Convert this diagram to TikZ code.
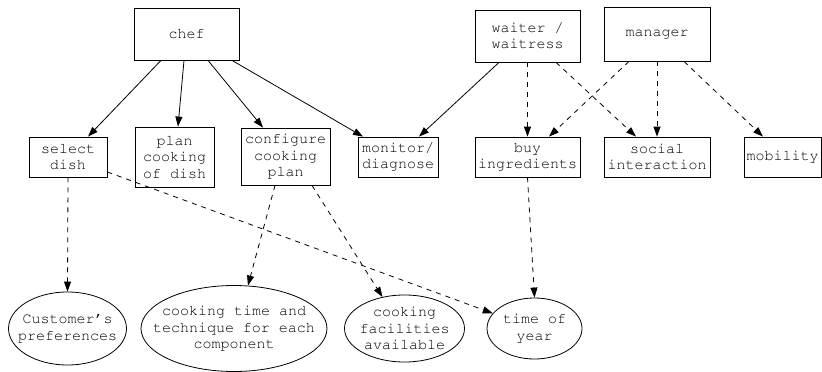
\documentclass[tikz,border=0pt]{standalone}
\usepackage[T1]{fontenc}
\renewcommand{\ttdefault}{pcr}
\usetikzlibrary{arrows.meta,shapes.geometric}

\begin{document}
\begin{tikzpicture}[x=1pt, y=-1pt,
    every node/.style={draw, line width=0.8pt, inner sep=0pt, align=center, font=\ttfamily\fontsize{15}{16.5}\selectfont},
    box/.style={rectangle},
    oval/.style={ellipse, inner sep=-40pt},
    role/.style={-{Triangle[length=10pt, width=7pt]}, line width=0.8pt},
    maybe/.style={role, dash pattern=on 5pt off 5pt}]
    \useasboundingbox (0,0) rectangle (822,372);
    % roles
    \node[box, minimum width=105pt, minimum height=52pt] (chef) at (186.5,34) {chef};
    \node[box, minimum width=105pt, minimum height=52pt] (waiter) at (527.5,36) {waiter /\\waitress};
    \node[box, minimum width=106pt, minimum height=54pt] (manager) at (657,34) {manager};
    % tasks
    \node[box, minimum width=78pt, minimum height=40pt] (sel) at (68,157) {select\\dish};
    \node[box, minimum width=79pt, minimum height=60pt] (plan) at (174.5,157) {plan\\cooking\\of dish};
    \node[box, minimum width=89pt, minimum height=57pt] (config) at (285.5,156.5) {configure\\cooking\\plan};
    \node[box, minimum width=80pt, minimum height=40pt] (monitor) at (398,157) {monitor/\\diagnose};
    \node[box, minimum width=105pt, minimum height=40pt] (buy) at (527.5,157) {buy\\ingredients};
    \node[box, minimum width=106pt, minimum height=40pt] (social) at (657,157) {social\\interaction};
    \node[box, minimum width=77pt, minimum height=40pt] (mobility) at (782.5,157) {mobility};
    % factors
    \node[oval, minimum width=118pt, minimum height=73pt] (pref) at (67.5,328.5) {Customer's\\preferences};
    \node[oval, minimum width=186pt, minimum height=86pt] (ctime) at (234,328.5) {cooking time and\\technique for each\\component};
    \node[oval, minimum width=120pt, minimum height=67pt] (facil) at (404.5,328.5) {cooking\\facilities\\available};
    \node[oval, minimum width=95pt, minimum height=61pt] (tyear) at (534.5,328.5) {time of\\year};
    % solid edges
    \draw[role] ([xshift=-25.5pt]chef.south) -- ([xshift=20pt]sel.north);
    \draw[role] ([xshift=-2.5pt]chef.south) -- ([xshift=3.5pt]plan.north);
    \draw[role] ([xshift=21.5pt]chef.south) -- ([xshift=-22.5pt]config.north);
    \draw[role] ([xshift=45.5pt]chef.south) -- ([xshift=-35pt]monitor.north);
    \draw[role] ([xshift=-28.5pt]waiter.south) -- ([xshift=21pt]monitor.north);
    % dashed edges
    \draw[maybe] (waiter.south) -- (buy.north);
    \draw[maybe] ([xshift=28.5pt]waiter.south) -- ([xshift=-21pt]social.north);
    \draw[maybe] ([xshift=-28pt]manager.south) -- ([xshift=21.5pt]buy.north);
    \draw[maybe] (manager.south) -- (social.north);
    \draw[maybe] ([xshift=27pt]manager.south) -- ([xshift=-19.5pt]mobility.north);
    \draw[maybe] (sel.south) -- (pref.north);
    \draw[maybe] ([yshift=-15pt]sel.east) -- (tyear.160);
    \draw[maybe] ([xshift=-10.5pt]config.south) -- (ctime.72);
    \draw[maybe] ([xshift=26.5pt]config.south) -- (facil.125);
    \draw[maybe] (buy.south) -- (tyear.north);
\end{tikzpicture}
\end{document}
